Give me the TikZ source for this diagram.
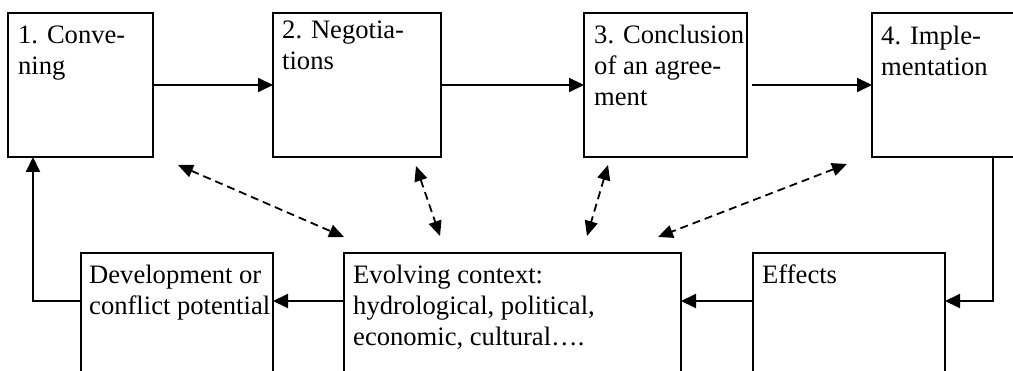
\documentclass[tikz,border=0pt]{standalone}
\usepackage{fontspec}
\setmainfont{Liberation Serif}
\usetikzlibrary{arrows.meta}
\begin{document}
\begin{tikzpicture}[x=1pt,y=-1pt,
  box/.style={draw,line width=2pt,rectangle,inner sep=0pt,outer sep=0pt,anchor=north west},
  lbl/.style={anchor=north west,inner sep=0pt,align=left,font=\fontsize{26.6}{31}\selectfont},
  arr/.style={line width=2pt,-{Triangle[length=15pt,width=14pt]}},
  darr/.style={line width=1.8pt,dash pattern=on 8pt off 5pt,{Triangle[length=15pt,width=13pt]}-{Triangle[length=15pt,width=13pt]}}]
\clip (0,0) rectangle (1013,371);
\fill[white] (0,0) rectangle (1013,371);
% top boxes
\node[box,minimum width=145pt,minimum height=144pt] (b1) at (8,13) {};
\node[box,minimum width=168pt,minimum height=144pt] (b2) at (273,13) {};
\node[box,minimum width=163pt,minimum height=144pt] (b3) at (584,13) {};
\node[box,minimum width=242pt,minimum height=144pt] (b4) at (872,13) {};
% bottom boxes
\node[box,minimum width=192pt,minimum height=160pt] (d) at (81,253) {};
\node[box,minimum width=337pt,minimum height=160pt] (e) at (344,253) {};
\node[box,minimum width=192pt,minimum height=160pt] (f) at (753,253) {};
% labels
\node[lbl] (t1) at ([shift={(10,13)}]b1.north west) {1. Conve-\\ning};
\node[lbl] (t2) at ([shift={(9,8)}]b2.north west) {2. Negotia-\\tions};
\node[lbl] (t3) at ([shift={(10,12)}]b3.north west) {3. Conclusion\\of an agree-\\ment};
\node[lbl] (t4) at ([shift={(9,13)}]b4.north west) {4. Imple-\\mentation};
\node[lbl] (td) at ([shift={(8,12)}]d.north west) {Development or\\conflict potential};
\node[lbl] (te) at ([shift={(9,12)}]e.north west) {Evolving context:\\hydrological, political,\\economic, cultural….};
\node[lbl] (tf) at ([shift={(9,12)}]f.north west) {Effects};
% helper coordinates
\coordinate (ylow) at (0,301);
\coordinate (xl) at (33,0);
\coordinate (xr) at (993,0);
% top flow
\draw[arr] (b1.east) -- (b2.west);
\draw[arr] (b2.east) -- (b3.west);
\draw[arr,shorten <=5pt] (b3.east) -- (b4.west);
% right loop down
\draw[arr] (b4.south) -- (xr |- ylow) -- (f.east |- ylow);
\draw[arr] (f.west |- ylow) -- (e.east |- ylow);
\draw[arr] (e.west |- ylow) -- (d.east |- ylow);
\draw[arr] (d.west |- ylow) -- (xl |- ylow) -- (xl |- b1.south);
% dashed interactions
\coordinate (p1a) at (178,165); \coordinate (p1b) at (344,237);
\coordinate (p2a) at (416,166); \coordinate (p2b) at (440,236);
\coordinate (p3a) at (608,165); \coordinate (p3b) at (587,236);
\coordinate (p4a) at (847,164); \coordinate (p4b) at (658,237);
\draw[darr] (p1a) -- (p1b);
\draw[darr] (p2a) -- (p2b);
\draw[darr] (p3a) -- (p3b);
\draw[darr] (p4a) -- (p4b);
\end{tikzpicture}
\end{document}
